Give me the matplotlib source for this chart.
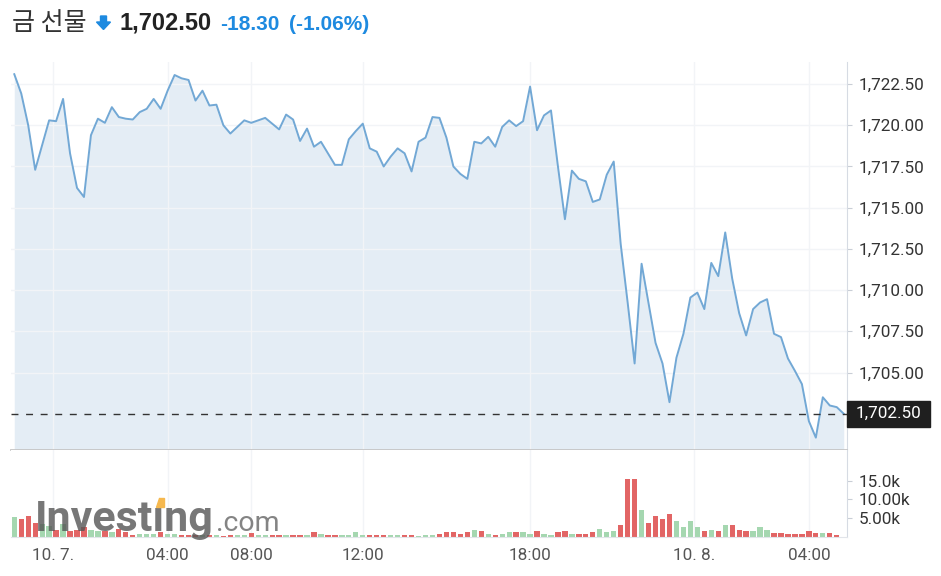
import numpy as np
import matplotlib
matplotlib.use("Agg")
import matplotlib.pyplot as plt
from matplotlib.patches import Rectangle, Polygon
import matplotlib.transforms as mtransforms

## 15분봉 종가 (금 선물)
price = [1723.10, 1721.93, 1720.00, 1717.30, 1718.80, 1720.30, 1720.25, 1721.60, 1718.30, 1716.20,
         1715.65, 1719.40, 1720.40, 1720.15, 1721.10, 1720.50, 1720.40, 1720.35, 1720.80, 1721.00,
         1721.60, 1721.00, 1722.10, 1723.05, 1722.85, 1722.75, 1721.50, 1722.10, 1721.20, 1721.25,
         1720.00, 1719.50, 1719.90, 1720.30, 1720.15, 1720.30, 1720.45, 1720.10, 1719.75, 1720.65,
         1720.35, 1719.05, 1719.80, 1718.70, 1719.00, 1718.30, 1717.60, 1717.60, 1719.15, 1719.65,
         1720.10, 1718.60, 1718.40, 1717.50, 1718.10, 1718.60, 1718.30, 1717.20, 1719.00, 1719.25,
         1720.50, 1720.45, 1719.25, 1717.50, 1717.05, 1716.75, 1719.00, 1718.90, 1719.30, 1718.70,
         1719.90, 1720.30, 1719.95, 1720.25, 1722.35, 1719.70, 1720.60, 1720.90, 1717.50, 1714.30,
         1717.25, 1716.75, 1716.60, 1715.35, 1715.50, 1717.00, 1717.80, 1712.80, 1709.25, 1705.55,
         1711.60, 1709.20, 1706.80, 1705.55, 1703.20, 1705.90, 1707.35, 1709.55, 1709.85, 1708.85,
         1711.65, 1710.85, 1713.50, 1710.70, 1708.60, 1707.25, 1708.85, 1709.25, 1709.45, 1707.35,
         1707.15, 1705.85, 1705.10, 1704.30, 1702.05, 1701.05, 1703.50, 1703.00, 1702.90, 1702.50]

## 거래량
volume = [5400, 4700, 5600, 3800, 3500, 3000, 1900, 3500, 1500, 1900,
          2700, 1900, 1500, 1500, 1200, 2200, 1200, 400, 700, 700,
          900, 1200, 700, 700, 500, 400, 500, 600, 500, 400,
          300, 400, 600, 500, 1000, 400, 400, 500, 400, 500,
          400, 600, 500, 1200, 900, 500, 400, 400, 500, 1200,
          400, 500, 400, 500, 400, 400, 500, 400, 300, 400,
          500, 700, 1200, 1200, 800, 1200, 1900, 1500, 700, 400,
          930, 1270, 1270, 1270, 820, 1610, 820, 480, 1270, 1610,
          930, 930, 930, 1270, 2060, 1270, 1610, 3300, 15500, 15500,
          7100, 3730, 5690, 4790, 6030, 4290, 2780, 4290, 2780, 1530,
          1900, 1530, 3120, 3120, 1980, 1530, 1530, 2780, 1980, 1190,
          1190, 740, 740, 740, 1530, 1190, 1190, 1190, 400]

x_tick_pos = [5.5, 22, 34, 50, 74, 97.5, 114]
x_tick_labels = ["10. 7.", "04:00", "08:00", "12:00", "18:00", "10. 8.", "04:00"]
price_ticks = [1705.0, 1707.5, 1710.0, 1712.5, 1715.0, 1717.5, 1720.0, 1722.5]
vol_ticks = [5000, 10000, 15000]
vol_tick_labels = ["5.00k", "10.00k", "15.0k"]

title_name = "금 선물"
last_txt = "1,702.50"
change_txt = "-18.30"
pct_txt = "(-1.06%)"

LINE = "#72a8d5"
FILL = "#e4edf5"
GRID = "#f2f4f7"
RED = "#e26565"
GREEN = "#a5d7b0"
BLUE = "#1e8ae0"

plt.rcParams['font.family'] = ['Roboto', 'DejaVu Sans']

W, H = 941, 576
fig = plt.figure(figsize=(W / 100, H / 100), dpi=100)


def px_box(x0, y0, x1, y1):
    # pixel box (top-left origin) -> figure fraction rect
    return [x0 / W, 1 - y1 / H, (x1 - x0) / W, (y1 - y0) / H]


def px_pts(pts):
    return [(a / W, 1 - b / H) for a, b in pts]


ax = fig.add_axes(px_box(11, 62, 847, 450))
axv = fig.add_axes(px_box(11, 450, 847, 537), sharex=ax)

xs = np.arange(len(price))
ylo, yhi = 1700.3, 1723.84

## 가격 영역
ax.fill_between(xs, price, ylo, color=FILL, lw=0, zorder=1)
ax.plot(xs, price, color=LINE, lw=1.4, zorder=3)
ax.axhline(price[-1], color="#333333", lw=1.0, ls=(0, (5, 5.5)), zorder=4)
ax.set_ylim(ylo, yhi)
ax.set_xlim(-0.47, len(price) - 0.53)
ax.set_axisbelow('line')
ax.grid(True, color=GRID, lw=1.0)

ax.yaxis.tick_right()
ax.set_yticks(price_ticks)
ax.set_yticklabels([f"{v:,.2f}" for v in price_ticks])
ax.tick_params(axis='y', length=3.5, color="#c9ced6", labelsize=12.3,
               labelcolor="#333333", pad=5)
ax.tick_params(axis='x', length=0, labelbottom=False)
ax.set_xticks(x_tick_pos)
for s in ['top', 'left']:
    ax.spines[s].set_visible(False)
ax.spines['bottom'].set_color("#c6c6c6")
ax.spines['bottom'].set_linewidth(1.3)
ax.spines['right'].set_color("#d6dbe3")

## 마지막 가격 라벨
trans = mtransforms.blended_transform_factory(ax.transAxes, ax.transData)
half = 13 * (yhi - ylo) / 388
ax.add_patch(Rectangle((1.0, price[-1] - half), 83 / 836, 2 * half, transform=trans,
                       color="#1f1f1f", clip_on=False, zorder=5))
ax.text(1.0 + 41.5 / 836, price[-1], f"{price[-1]:,.2f}", transform=trans, ha='center',
        va='center', color='white', fontsize=12.3, zorder=6, clip_on=False)

## 거래량 영역
vx = np.arange(len(volume))
up = np.diff(np.array(price[:len(volume)]), prepend=price[0]) >= 0
axv.bar(vx, volume, width=0.76, color=[GREEN if u else RED for u in up], lw=0, zorder=2)
axv.set_ylim(0, 23170)
axv.yaxis.tick_right()
axv.set_yticks(vol_ticks)
axv.set_yticklabels(vol_tick_labels)
axv.tick_params(axis='y', length=3.5, color="#c9ced6", labelsize=12.3,
                labelcolor="#333333", pad=5)
axv.set_xticks(x_tick_pos)
axv.set_xticklabels(x_tick_labels)
axv.tick_params(axis='x', length=0, labelsize=12.3, labelcolor="#555555", pad=8)
axv.grid(True, axis='x', color=GRID, lw=1.0, zorder=0)
axv.set_axisbelow(True)
for s in ['top', 'left']:
    axv.spines[s].set_visible(False)
axv.spines['bottom'].set_color("#e2e5ea")
axv.spines['right'].set_color("#d6dbe3")

## 워터마크
base = 1 - 530.7 / H
fig.text(35 / W, base, "Investıng", fontsize=31, fontweight='bold', color="#555555",
         alpha=0.8, va='baseline', ha='left', zorder=10)
fig.text(216 / W, base, ".com", fontsize=20.5, color="#666666", alpha=0.8,
         va='baseline', ha='left', zorder=10)
dot = [(155.5, 506.7), (163.8, 506.7), (163.8, 497.8), (158.5, 497.8)]
fig.patches.append(Polygon(px_pts(dot), closed=True, transform=fig.transFigure,
                           color="#f6b84e", zorder=11))

## 제목
tb = 1 - 29.5 / H
fig.text(12 / W, tb, title_name, fontsize=18, color="#333333", va='baseline',
         family=['Noto Sans CJK KR', 'DejaVu Sans'])
arrow = [(100.5, 16), (106.5, 16), (106.5, 22), (110.5, 22), (103.5, 29.5), (96.5, 22), (100.5, 22)]
fig.patches.append(Polygon(px_pts(arrow), closed=True, transform=fig.transFigure,
                           color=BLUE, zorder=11))
fig.text(119 / W, tb, last_txt, fontsize=17, fontweight='bold', color="#222222",
         va='baseline', family=['Liberation Sans', 'DejaVu Sans'])
fig.text(220 / W, tb, change_txt, fontsize=15, fontweight='bold', color=BLUE,
         va='baseline', family=['Liberation Sans', 'DejaVu Sans'])
fig.text(289 / W, tb, pct_txt, fontsize=15, fontweight='bold', color=BLUE,
         va='baseline', family=['Liberation Sans', 'DejaVu Sans'])

fig.savefig("out.png", dpi=100)
